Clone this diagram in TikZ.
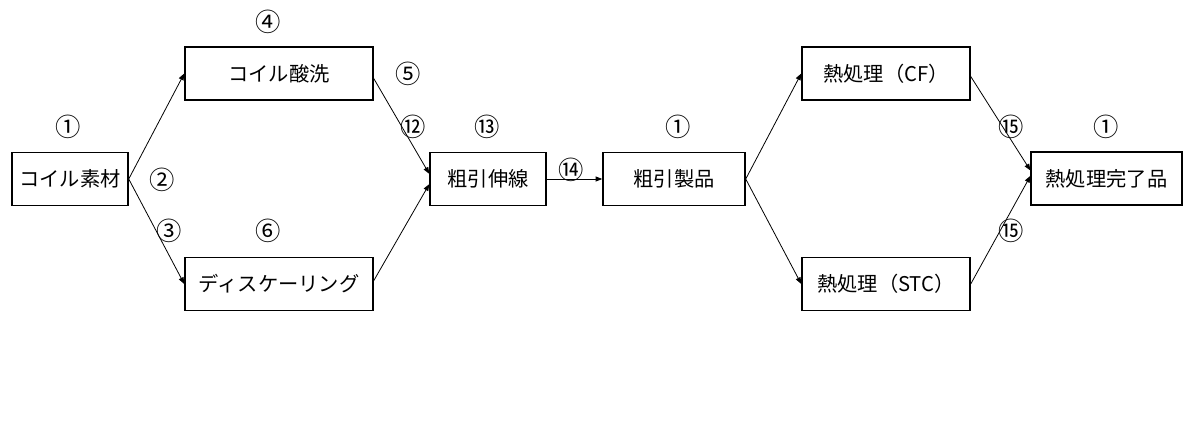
\documentclass[tikz,border=0pt]{standalone}
\usepackage{fontspec}
\setmainfont{Noto Sans CJK JP}
\usetikzlibrary{arrows.meta}

\tikzset{every picture/.style={line width=0.75pt}}
\tikzset{
  kotei/.style={draw, line width=1.1pt, minimum height=39.5pt, inner sep=0pt, font=\fontsize{15.2}{18}\selectfont},
  bango/.style={inner sep=0.75pt, font=\fontsize{19}{22}\selectfont},
  yaji/.style={line width=0.6pt, -{Triangle[length=5pt,width=3.8pt]}}
}

\begin{document}
\begin{tikzpicture}[x=0.75pt,y=0.75pt,yscale=-1,xscale=1]
        \useasboundingbox[fill=white] (0,0) rectangle (1200,436);

        % process boxes
        \node [kotei, minimum width=87pt] (sozai) at (70,179) {コイル素材};
        \node [kotei, minimum width=141pt] (sansen) at (279,73.5) {コイル酸洗};
        \node [kotei, minimum width=141pt] (desc) at (279,284) {ディスケーリング};
        \node [kotei, minimum width=87pt] (sensen) at (488,179) {粗引伸線};
        \node [kotei, minimum width=106.5pt] (seihin) at (674,179) {粗引製品};
        \node [kotei, minimum width=126pt] (cf) at (886,73.5) {熱処理（CF）};
        \node [kotei, minimum width=126pt] (stc) at (886,284) {熱処理（STC）};
        \node [kotei, minimum width=113pt] (kanryo) at (1106.5,178.5) {熱処理完了品};

        \draw [yaji] (sozai.east) -- (sansen.west);
        \draw [yaji] (sozai.east) -- (desc.west);
        \draw [yaji] (sansen.-3) -- (sensen.175);
        \draw [yaji] (desc.2) -- (sensen.185);
        \draw [yaji] (sensen.east) -- (seihin.west);
        \draw [yaji] (seihin.east) -- (cf.west);
        \draw [yaji] (seihin.east) -- (stc.west);
        \draw [yaji] (cf.-2) -- (kanryo.174);
        \draw [yaji] (stc.east) -- (kanryo.178);

        % numbers
        \node [bango] (n1a) at (68,127) {①};
        \node [bango] (n2) at (162,180) {②};
        \node [bango] (n3) at (169,231) {③};
        \node [bango] (n4) at (268,22) {④};
        \node [bango] (n5) at (408,74) {⑤};
        \node [bango] (n6) at (268,231) {⑥};
        \node [bango] (n12) at (413,127) {⑫};
        \node [bango] (n13) at (487,127) {⑬};
        \node [bango] (n14) at (571,170) {⑭};
        \node [bango] (n1b) at (678,127) {①};
        \node [bango] (n15a) at (1011,127) {⑮};
        \node [bango] (n15b) at (1011,231) {⑮};
        \node [bango] (n1c) at (1106,127) {①};
\end{tikzpicture}
\end{document}
